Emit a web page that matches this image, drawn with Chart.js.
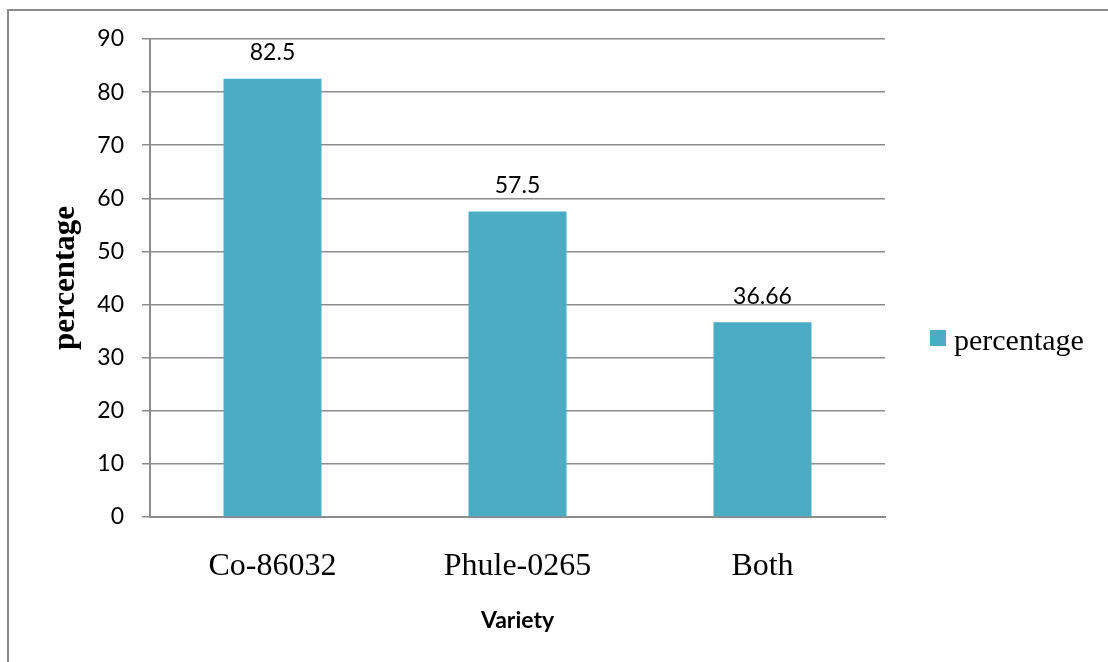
<!DOCTYPE html>
<html>
<head>
<meta charset="utf-8">
<script src="https://cdn.jsdelivr.net/npm/chart.js@4/dist/chart.umd.min.js"></script>
<style>
  html, body { margin: 0; padding: 0; background: #ffffff; }
  #wrap { width: 1108px; height: 662px; position: relative; }
</style>
</head>
<body>
<div id="wrap"><canvas id="chart" width="1108" height="662"></canvas></div>
<script>
// Varieties and their percentages
const categories = ['Co-86032', 'Phule-0265', 'Both'];
const percentValues = [82.5, 57.5, 36.66];
const valueLabels = ['82.5', '57.5', '36.66'];
const seriesName = 'percentage';
const yTicks = [0, 10, 20, 30, 40, 50, 60, 70, 80, 90];

const BAR_COLOR = '#4BACC6';
const GRID_COLOR = '#8c8c8c';

// Outer frame of the figure
const framePlugin = {
  id: 'frame',
  beforeDraw(chart) {
    const ctx = chart.ctx;
    ctx.save();
    ctx.fillStyle = '#ffffff';
    ctx.fillRect(0, 0, chart.width, chart.height);
    ctx.strokeStyle = GRID_COLOR;
    ctx.lineWidth = 2;
    ctx.beginPath();
    ctx.moveTo(8, chart.height);
    ctx.lineTo(8, 10);
    ctx.lineTo(chart.width, 10);
    ctx.stroke();
    ctx.restore();
  }
};

// Value labels above each bar
const valueLabelPlugin = {
  id: 'valueLabels',
  afterDatasetsDraw(chart) {
    const ctx = chart.ctx;
    const meta = chart.getDatasetMeta(0);
    ctx.save();
    ctx.font = '23px Lato';
    ctx.fillStyle = '#000000';
    ctx.textAlign = 'center';
    ctx.textBaseline = 'middle';
    meta.data.forEach((bar, i) => {
      ctx.fillText(valueLabels[i], bar.x, bar.y - 26);
    });
    ctx.restore();
  }
};

// Legend to the right of the plot
const sideLegendPlugin = {
  id: 'sideLegend',
  afterDraw(chart) {
    const ctx = chart.ctx;
    const ds = chart.data.datasets[0];
    ctx.save();
    ctx.fillStyle = ds.backgroundColor;
    ctx.fillRect(930, 330, 16, 16);
    ctx.font = '30px "Liberation Serif"';
    ctx.fillStyle = '#000000';
    ctx.textAlign = 'left';
    ctx.textBaseline = 'alphabetic';
    ctx.fillText(ds.label, 954, 350);
    ctx.restore();
  }
};

new Chart(document.getElementById('chart'), {
  type: 'bar',
  data: {
    labels: categories,
    datasets: [{
      label: seriesName,
      data: percentValues,
      backgroundColor: BAR_COLOR,
      borderWidth: 0,
      categoryPercentage: 0.4,
      barPercentage: 1.0
    }]
  },
  options: {
    responsive: false,
    animation: false,
    devicePixelRatio: 1,
    layout: { padding: { top: 39, right: 223, bottom: 0, left: 0 } },
    plugins: {
      legend: { display: false },
      tooltip: { enabled: false },
      title: { display: false }
    },
    scales: {
      x: {
        grid: { display: false, drawTicks: false },
        border: { display: true, color: GRID_COLOR, width: 2 },
        ticks: {
          color: '#000000',
          font: { family: '"Liberation Serif"', size: 32 },
          padding: 30,
          maxRotation: 0
        },
        title: {
          display: true,
          text: 'Variety',
          color: '#000000',
          font: { family: 'Lato', size: 23, weight: 'bold' },
          padding: { top: 0, bottom: 28 }
        },
        afterFit(scale) { scale.height = 145; }
      },
      y: {
        min: 0,
        max: 90,
        afterBuildTicks(scale) { scale.ticks = yTicks.map(v => ({ value: v })); },
        grid: { color: GRID_COLOR, lineWidth: 1.5, tickLength: 8 },
        border: { display: true, color: GRID_COLOR, width: 2 },
        ticks: {
          color: '#000000',
          font: { family: 'Lato', size: 23 },
          padding: 18
        },
        title: {
          display: true,
          text: 'percentage',
          color: '#000000',
          font: { family: '"Liberation Serif"', size: 31, weight: 'bold' },
          padding: { top: 47, bottom: 0 }
        },
        afterFit(scale) { scale.width = 150; }
      }
    }
  },
  plugins: [framePlugin, valueLabelPlugin, sideLegendPlugin]
});
</script>
</body>
</html>
